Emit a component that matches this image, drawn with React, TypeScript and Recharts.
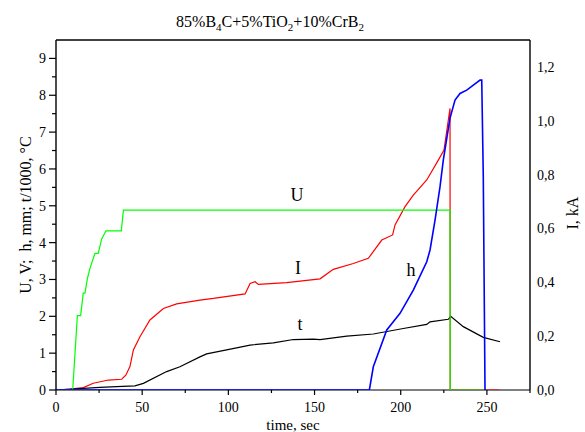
import React from 'react';
import { LineChart, Line, XAxis, YAxis, ReferenceLine, ReferenceDot, CartesianGrid } from 'recharts';

const FONT = '"Liberation Serif", "Times New Roman", Times, serif';

// U, V (left axis) — green
const uTime = [0, 9.7, 12.4, 14.3, 15.8, 16.8, 18.2, 19.7, 22.6, 24.5, 26.5, 29, 37.9, 39.1, 228.6, 228.7, 249];
const uVal = [0, 0, 2.02, 2.02, 2.63, 2.63, 3.02, 3.3, 3.71, 3.71, 4.1, 4.32, 4.32, 4.88, 4.88, 0, 0];

// I, kA (right axis) — red
const iTime = [0, 8, 15.9, 21.6, 30.4, 38.1, 40.5, 42.9, 44.9, 48.7, 54.5, 62.3, 70, 83.5, 91.3, 109.7, 112.6, 115.5, 117.4, 133.8, 153.2, 160.9, 172.5, 181.2, 189, 195.3, 196.7, 202.5, 207.3, 215.1, 221.8, 225.1, 228.6, 228.7, 257];
const iVal = [0, 0.003, 0.009, 0.025, 0.037, 0.04, 0.055, 0.087, 0.149, 0.198, 0.26, 0.303, 0.32, 0.334, 0.34, 0.357, 0.396, 0.402, 0.392, 0.399, 0.413, 0.448, 0.47, 0.489, 0.557, 0.576, 0.613, 0.681, 0.724, 0.78, 0.854, 0.891, 1.046, 0, 0];

// t/1000, °C (left axis) — black
const tTime = [0, 25.5, 35.2, 45.8, 50.7, 64.2, 71.9, 83.5, 87.4, 99, 112.6, 126.1, 137.7, 149.3, 153.2, 168.7, 184.1, 201.5, 215.1, 217, 227.6, 229, 236.3, 247.9, 257.6];
const tVal = [0, 0.07, 0.09, 0.11, 0.18, 0.5, 0.63, 0.9, 0.98, 1.09, 1.22, 1.28, 1.37, 1.38, 1.37, 1.46, 1.52, 1.67, 1.78, 1.85, 1.92, 2.0, 1.72, 1.43, 1.31];

// h, mm (left axis) — blue
const hTime = [0, 181.8, 184.1, 191.9, 199.6, 207.3, 215.1, 217, 219.9, 222.8, 224.7, 228.6, 231.5, 234.4, 238.3, 246, 247, 247.9, 248.9];
const hVal = [0, 0, 0.63, 1.63, 2.08, 2.71, 3.48, 3.8, 4.61, 5.52, 6.24, 7.38, 7.87, 8.05, 8.14, 8.41, 8.41, 5.79, 0];

const xTicks = [0, 25, 50, 75, 100, 125, 150, 175, 200, 225, 250, 275];
const leftTicks = [0, 0.5, 1, 1.5, 2, 2.5, 3, 3.5, 4, 4.5, 5, 5.5, 6, 6.5, 7, 7.5, 8, 8.5, 9];
const rightTicks = [0, 0.2, 0.4, 0.6, 0.8, 1.0, 1.2];

const zip = (ts: number[], vs: number[]) => ts.map((t, i) => ({ x: t, y: vs[i] }));
const uData = zip(uTime, uVal);
const iData = zip(iTime, iVal);
const tData = zip(tTime, tVal);
const hData = zip(hTime, hVal);

const XTick = (props: any) => {
  const { x, y, payload } = props;
  const v = payload.value;
  const major = v % 50 === 0;
  return (
    <g>
      <line x1={x} y1={y} x2={x} y2={y + (major ? 5 : 3)} stroke="#000" strokeWidth={1.2} />
      {major && (
        <text x={x} y={y + 22} textAnchor="middle" fontSize={14} fontFamily={FONT} fill="#000">
          {v}
        </text>
      )}
    </g>
  );
};

const LeftTick = (props: any) => {
  const { x, y, payload } = props;
  const v = payload.value;
  const major = Number.isInteger(v);
  return (
    <g>
      <line x1={x} y1={y} x2={x - (major ? 7 : 4)} y2={y} stroke="#000" strokeWidth={1.2} />
      {major && (
        <text x={x - 10} y={y} dy="0.35em" textAnchor="end" fontSize={14} fontFamily={FONT} fill="#000">
          {v}
        </text>
      )}
    </g>
  );
};

const RightTick = (props: any) => {
  const { x, y, payload } = props;
  const v = payload.value as number;
  return (
    <text x={x + 7} y={y} dy="0.35em" textAnchor="start" fontSize={14} fontFamily={FONT} fill="#000">
      {v.toFixed(1).replace('.', ',')}
    </text>
  );
};

const annot = (value: string) => ({ value, position: 'center' as const, fontSize: 18, fontFamily: FONT, fill: '#000' });

export default function App() {
  return (
    <div style={{ position: 'absolute', left: 0, top: 0, width: 585, height: 432, background: '#fff', fontFamily: FONT }}>
      <div
        style={{
          position: 'absolute',
          left: 270,
          top: 12,
          transform: 'translateX(-50%)',
          fontSize: 16,
          whiteSpace: 'nowrap',
          color: '#000',
          lineHeight: '20px',
        }}
      >
        85%B<sub style={{ fontSize: 11 }}>4</sub>C+5%TiO<sub style={{ fontSize: 11 }}>2</sub>+10%CrB<sub style={{ fontSize: 11 }}>2</sub>
      </div>
      <LineChart width={585} height={432} margin={{ top: 40, right: 0, bottom: 0, left: 0 }}>
        <CartesianGrid
          yAxisId="left"
          vertical={false}
          horizontalCoordinatesGenerator={(p: any) => [p.offset.top + p.offset.height]}
          stroke="#000"
          strokeWidth={1.2}
          fill="none"
        />
        <XAxis
          dataKey="x"
          type="number"
          domain={[0, 275]}
          ticks={xTicks}
          interval={0}
          tickLine={false}
          tickSize={0}
          tickMargin={0}
          tick={<XTick />}
          axisLine={false}
          height={42}
          allowDataOverflow
          label={{
            content: (p: any) => (
              <text x={p.viewBox.x + p.viewBox.width / 2} y={p.viewBox.y + 40} textAnchor="middle" fontSize={15} fontFamily={FONT} fill="#000">
                time, sec
              </text>
            ),
          }}
        />
        <YAxis
          yAxisId="left"
          type="number"
          domain={[0, 9.5]}
          ticks={leftTicks}
          interval={0}
          tickLine={false}
          tickSize={0}
          tickMargin={0}
          tick={<LeftTick />}
          axisLine={{ stroke: '#000', strokeWidth: 1.4 }}
          width={56}
          allowDataOverflow
          label={{
            content: (p: any) => {
              const cx = p.viewBox.x + 31;
              const cy = p.viewBox.y + p.viewBox.height / 2;
              return (
                <text x={cx} y={cy} transform={`rotate(-90, ${cx}, ${cy})`} textAnchor="middle" fontSize={16} fontFamily={FONT} fill="#000" style={{ whiteSpace: 'pre' }}>
                  {'U, V;  h, mm; t/1000, °C'}
                </text>
              );
            },
          }}
        />
        <YAxis
          yAxisId="right"
          orientation="right"
          type="number"
          domain={[0, 1.3]}
          ticks={rightTicks}
          interval={0}
          tickLine={false}
          tickSize={0}
          tickMargin={0}
          tick={<RightTick />}
          axisLine={{ stroke: '#000', strokeWidth: 1.4 }}
          width={55}
          allowDataOverflow
          label={{
            content: (p: any) => {
              const cx = p.viewBox.x + 48;
              const cy = p.viewBox.y + 173;
              return (
                <text x={cx} y={cy} transform={`rotate(-90, ${cx}, ${cy})`} textAnchor="middle" fontSize={16} fontFamily={FONT} fill="#000">
                  I, kA
                </text>
              );
            },
          }}
        />
        <ReferenceLine yAxisId="left" y={9.5} stroke="#404040" strokeWidth={2} ifOverflow="visible" />
        <Line yAxisId="right" data={iData} dataKey="y" type="linear" stroke="#ff0000" strokeWidth={1.2} dot={false} isAnimationActive={false} />
        <Line yAxisId="left" data={tData} dataKey="y" type="linear" stroke="#000000" strokeWidth={1.2} dot={false} isAnimationActive={false} />
        <Line yAxisId="left" data={uData} dataKey="y" type="linear" stroke="#00ff00" strokeWidth={1.2} dot={false} isAnimationActive={false} />
        <Line yAxisId="left" data={hData} dataKey="y" type="linear" stroke="#0000ff" strokeWidth={1.6} dot={false} isAnimationActive={false} />
        <ReferenceDot yAxisId="left" x={139.8} y={5.29} r={0} fill="none" stroke="none" label={annot('U')} />
        <ReferenceDot yAxisId="left" x={140.4} y={3.31} r={0} fill="none" stroke="none" label={annot('I')} />
        <ReferenceDot yAxisId="left" x={141.6} y={1.79} r={0} fill="none" stroke="none" label={annot('t')} />
        <ReferenceDot yAxisId="left" x={206} y={3.26} r={0} fill="none" stroke="none" label={annot('h')} />
      </LineChart>
    </div>
  );
}
